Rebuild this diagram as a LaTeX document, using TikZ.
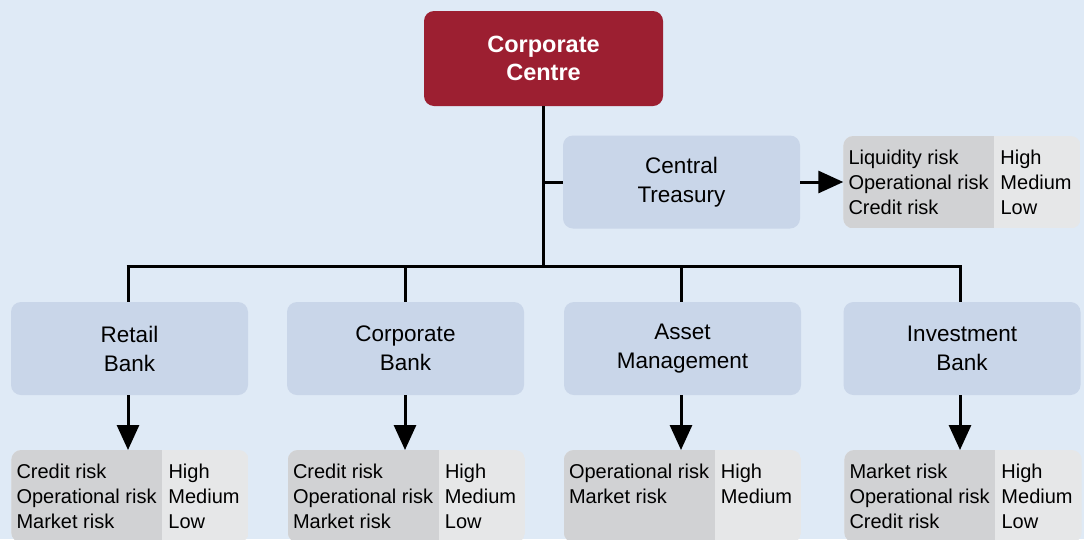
\documentclass[tikz,border=0pt]{standalone}
\usepackage{fontspec}
\setmainfont{Liberation Sans}
\usetikzlibrary{arrows.meta}
\definecolor{bgblue}{RGB}{223,234,246}
\definecolor{unitblue}{RGB}{201,214,233}
\definecolor{ccred}{RGB}{156,31,49}
\definecolor{dkgrey}{RGB}{209,210,212}
\definecolor{ltgrey}{RGB}{230,231,232}
\tikzset{
  unitbox/.style={fill=unitblue, rounded corners=10pt, minimum width=237pt, minimum height=93pt, align=center, inner sep=0pt, font=\fontsize{22.5}{29}\selectfont},
  ccbox/.style={fill=ccred, rounded corners=10pt, minimum width=239pt, minimum height=95pt, align=center, inner sep=0pt, text=white, font=\bfseries\fontsize{23.5}{28}\selectfont},
  tabbox/.style={minimum width=237pt, minimum height=92pt, inner sep=0pt},
  tabtext/.style={inner sep=0pt, anchor=west, font=\fontsize{20}{25}\selectfont},
  conn/.style={line width=3pt, black},
  arr/.style={line width=3pt, black, -{Triangle[length=25pt,width=22pt]}}
}
\newcommand\risktab[4]{%
  \node[tabbox, anchor=north] (#1) at (#2) {};
  \begin{scope}
    \clip[rounded corners=10pt] (#1.south west) rectangle (#1.north east);
    \fill[ltgrey] (#1.south west) rectangle (#1.north east);
    \fill[dkgrey] (#1.south west) rectangle ([xshift=151pt]#1.north west);
  \end{scope}
  \node[tabtext] (#1-txt) at ([xshift=5pt,yshift=-2pt]#1.west) {\renewcommand\arraystretch{1}\setlength\tabcolsep{0pt}\begin{tabular}{@{}p{152pt}@{}l@{}}#3\\#4\end{tabular}};
}
\begin{document}
\begin{tikzpicture}[x=1pt,y=-1pt]
\fill[bgblue] (0,0) rectangle (1084,539);
\clip (0,0) rectangle (1084,539);
\node[ccbox] (cc) at (543.5,58.5) {Corporate\\Centre};
\node[unitbox] (ct) at (681.5,182) {Central\\Treasury};
\node[unitbox] (rb) at (129.5,348.5) {Retail\\Bank};
\node[unitbox] (cb) at (405.5,348.5) {Corporate\\Bank};
\node[unitbox] (am) at (682.5,348.5) {Asset\\Management};
\node[unitbox] (ib) at (962,348.5) {Investment\\Bank};
\coordinate (busC) at (543,266);
\coordinate (busL) at (128,266);
\coordinate (busR) at (960,266);
\draw[conn] (cc.south -| busC) -- (busC);
\draw[conn] ([xshift=-1.5pt]busL) -- ([xshift=1.5pt]busR);
\draw[conn] (ct.west) -- (ct.west -| busC);
\foreach \u/\x in {rb/128,cb/405,am/681,ib/960}{
  \draw[conn] (\x,266) -- (\u.north -| {(\x,0)});
}
\risktab{ctt}{962,136}{Liquidity risk & High\\Operational risk & Medium}{Credit risk & Low}
\risktab{rbt}{130,450}{Credit risk & High\\Operational risk & Medium}{Market risk & Low}
\risktab{cbt}{406.5,450}{Credit risk & High\\Operational risk & Medium}{Market risk & Low}
\risktab{amt}{682.5,450}{Operational risk & High\\Market risk & Medium}{ & }
\risktab{ibt}{963,450}{Market risk & High\\Operational risk & Medium}{Credit risk & Low}
\draw[arr] (ct.east) -- (ctt.west |- ct.east);
\draw[arr] (rb.south -| busL) -- (rbt.north -| busL);
\draw[arr] (cb.south -| {(405,0)}) -- (cbt.north -| {(405,0)});
\draw[arr] (am.south -| {(681,0)}) -- (amt.north -| {(681,0)});
\draw[arr] (ib.south -| busR) -- (ibt.north -| busR);
\end{tikzpicture}
\end{document}
